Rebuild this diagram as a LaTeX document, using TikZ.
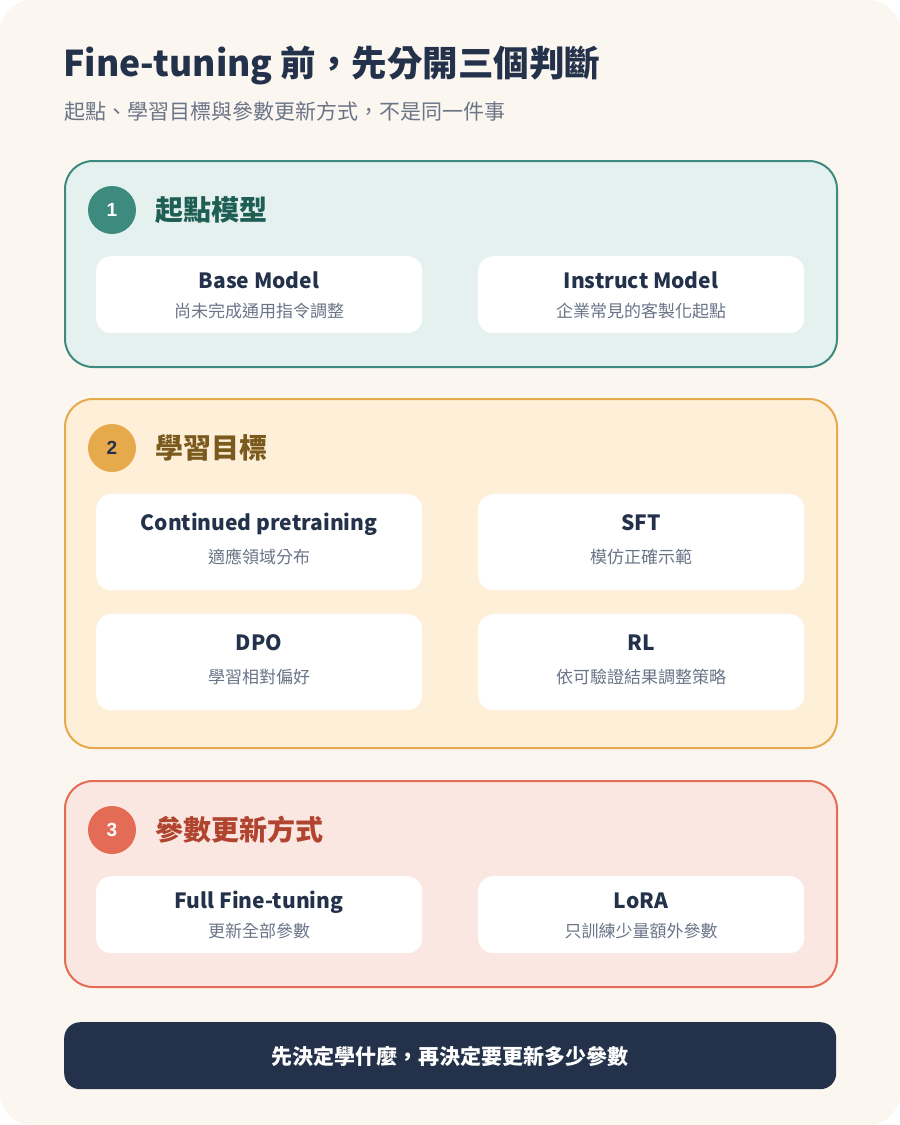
\documentclass[tikz,border=0pt]{standalone}
\usepackage{fontspec}
\setmainfont{Noto Sans CJK TC}
\newfontfamily\numfont{Liberation Sans}
\definecolor{pagebg}{HTML}{FBF6EF}
\definecolor{navy}{HTML}{23324A}
\definecolor{subgray}{HTML}{6B7588}
\definecolor{tealfill}{HTML}{E5F1EE}
\definecolor{tealline}{HTML}{3D8B7F}
\definecolor{tealtext}{HTML}{1E5E54}
\definecolor{goldfill}{HTML}{FEF0D8}
\definecolor{goldline}{HTML}{E6A94B}
\definecolor{goldtext}{HTML}{7B5A1E}
\definecolor{redfill}{HTML}{FBE7E1}
\definecolor{redline}{HTML}{E46C56}
\definecolor{redtext}{HTML}{B0442F}
\begin{document}
\begin{tikzpicture}[x=1pt,y=-1pt,
  txt/.style={inner sep=0pt, text height=8.8pt, text depth=1.2pt},
  panelbox/.style={draw, line width=2pt, rounded corners=28pt, anchor=north west, minimum width=772pt, inner sep=0pt},
  cardbox/.style={fill=white, rounded corners=15pt, anchor=north west, minimum width=326pt, inner sep=0pt},
  numdot/.style={circle, minimum size=48pt, inner sep=0pt, font=\numfont\bfseries\fontsize{19}{19}\selectfont},
  headtxt/.style={txt, anchor=west, font=\bfseries\fontsize{28}{30}\selectfont},
  cardtitle/.style={txt, text=navy, font=\bfseries\fontsize{21}{24}\selectfont},
  cardsub/.style={txt, text=subgray, font=\fontsize{17}{20}\selectfont}
]
\useasboundingbox (0,0) rectangle (900,1125);
\fill[white] (0,0) rectangle (900,1125);
\fill[pagebg, rounded corners=32pt] (0,0) rectangle (900,1125);

% title
\node[txt, anchor=west, text=navy, font=\bfseries\fontsize{35.5}{40}\selectfont] (title) at (63,73) {Fine-tuning 前，先分開三個判斷};
\node[txt, anchor=west, text=subgray, font=\fontsize{21}{24}\selectfont] (subtitle) at (64,115.5) {起點、學習目標與參數更新方式，不是同一件事};

% panel 1
\node[panelbox, draw=tealline, fill=tealfill, minimum height=206pt] (p1) at (64,160) {};
\node[numdot, fill=tealline, text=white] (n1) at (112,210) {1};
\node[headtxt, text=tealtext] (h1) at (155,217) {起點模型};
\node[cardbox, minimum height=77pt] (c11) at (96,256) {};
\node[cardbox, minimum height=77pt] (c12) at (478,256) {};
\node[cardtitle] (t11) at (259,285) {Base Model};
\node[cardsub] (s11) at (259,314) {尚未完成通用指令調整};
\node[cardtitle] (t12) at (641,285) {Instruct Model};
\node[cardsub] (s12) at (641,314) {企業常見的客製化起點};

% panel 2
\node[panelbox, draw=goldline, fill=goldfill, minimum height=349pt] (p2) at (64,398) {};
\node[numdot, fill=goldline, text=navy] (n2) at (112,448) {2};
\node[headtxt, text=goldtext] (h2) at (155,455) {學習目標};
\node[cardbox, minimum height=96pt] (c21) at (96,494) {};
\node[cardbox, minimum height=96pt] (c22) at (478,494) {};
\node[cardbox, minimum height=96pt] (c23) at (96,614) {};
\node[cardbox, minimum height=96pt] (c24) at (478,614) {};
\node[cardtitle] (t21) at (259,527) {Continued pretraining};
\node[cardsub] (s21) at (259,560) {適應領域分布};
\node[cardtitle] (t22) at (641,527) {SFT};
\node[cardsub] (s22) at (641,560) {模仿正確示範};
\node[cardtitle] (t23) at (259,647) {DPO};
\node[cardsub] (s23) at (259,680) {學習相對偏好};
\node[cardtitle] (t24) at (641,647) {RL};
\node[cardsub] (s24) at (641,680) {依可驗證結果調整策略};

% panel 3
\node[panelbox, draw=redline, fill=redfill, minimum height=206pt] (p3) at (64,780) {};
\node[numdot, fill=redline, text=white] (n3) at (112,830) {3};
\node[headtxt, text=redtext] (h3) at (155,837) {參數更新方式};
\node[cardbox, minimum height=77pt] (c31) at (96,876) {};
\node[cardbox, minimum height=77pt] (c32) at (478,876) {};
\node[cardtitle] (t31) at (259,905) {Full Fine-tuning};
\node[cardsub] (s31) at (259,934) {更新全部參數};
\node[cardtitle] (t32) at (641,905) {LoRA};
\node[cardsub] (s32) at (641,934) {只訓練少量額外參數};

% bottom bar
\node[fill=navy, rounded corners=16pt, anchor=north west, minimum width=772pt, minimum height=67pt, inner sep=0pt] (bar) at (64,1022) {};
\node[txt, text=white, font=\bfseries\fontsize{21}{24}\selectfont] (bartxt) at (450,1061) {先決定學什麼，再決定要更新多少參數};
\end{tikzpicture}
\end{document}
